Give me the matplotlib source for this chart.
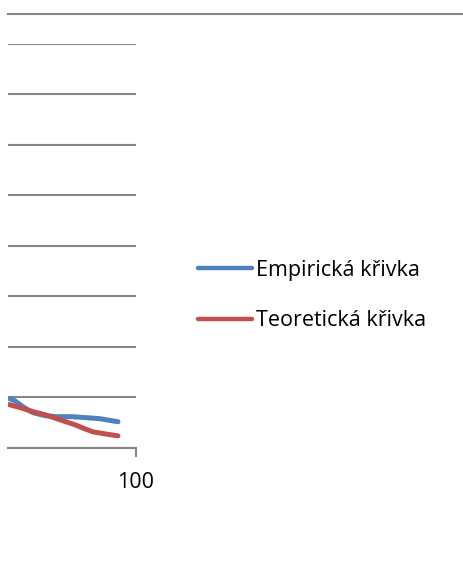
import matplotlib.pyplot as plt
from matplotlib.lines import Line2D

# data (y in gridline steps)
x_emp = [0.8, 5.0, 9.4, 14.5, 19.5, 28.9, 38.3, 50.0, 61.7, 71.9, 85.9]
y_emp = [0.97, 0.93, 0.85, 0.76, 0.69, 0.63, 0.61, 0.61, 0.59, 0.57, 0.51]
x_teo = [0.8, 9.4, 19.5, 28.9, 40.6, 52.3, 60.0, 66.4, 75.8, 85.9]
y_teo = [0.85, 0.79, 0.71, 0.65, 0.55, 0.45, 0.37, 0.31, 0.27, 0.23]

labels = ["Empirická křivka", "Teoretická křivka"]
blue = "#4F81BD"
red = "#C0504D"
grey = "#868686"

plt.rcParams['font.family'] = ['Open Sans', 'DejaVu Sans']

fig = plt.figure(figsize=(4.64, 5.65), dpi=100)
ax = fig.add_axes([8 / 464, 1 - 447.5 / 565, 128 / 464, 404 / 565])

ax.plot(x_emp, y_emp, color=blue, lw=3.6, solid_capstyle='round',
        solid_joinstyle='round', label=labels[0])
ax.plot(x_teo, y_teo, color=red, lw=3.6, solid_capstyle='round',
        solid_joinstyle='round', label=labels[1])

ax.set_xlim(0, 100)
ax.set_ylim(0, 8)
ax.set_yticks(range(0, 9))
ax.yaxis.grid(True, color=grey, lw=1.5)
ax.set_axisbelow(True)
ax.tick_params(axis='y', left=False, labelleft=False)
ax.set_xticks([100])
ax.set_xticklabels(['100'])
ax.tick_params(axis='x', direction='out', length=6.5, width=1.5, color=grey,
               labelsize=15.5, pad=11)
for s in ['left', 'right', 'top']:
    ax.spines[s].set_visible(False)
ax.spines['bottom'].set_color(grey)
ax.spines['bottom'].set_linewidth(1.5)

# border line across the top
fig.add_artist(Line2D([8 / 464, 1], [1 - 13.5 / 565, 1 - 13.5 / 565],
                      transform=fig.transFigure, color=grey, lw=1.5))

leg = ax.legend(loc='center left', bbox_to_anchor=(187 / 464, 1 - 295.5 / 565),
                bbox_transform=fig.transFigure, frameon=False, fontsize=15.5,
                handlelength=2.5, handletextpad=0.2, labelspacing=1.37,
                borderpad=0)
for h in leg.get_lines():
    h.set_linewidth(3.2)

fig.savefig("out.png", dpi=100)
